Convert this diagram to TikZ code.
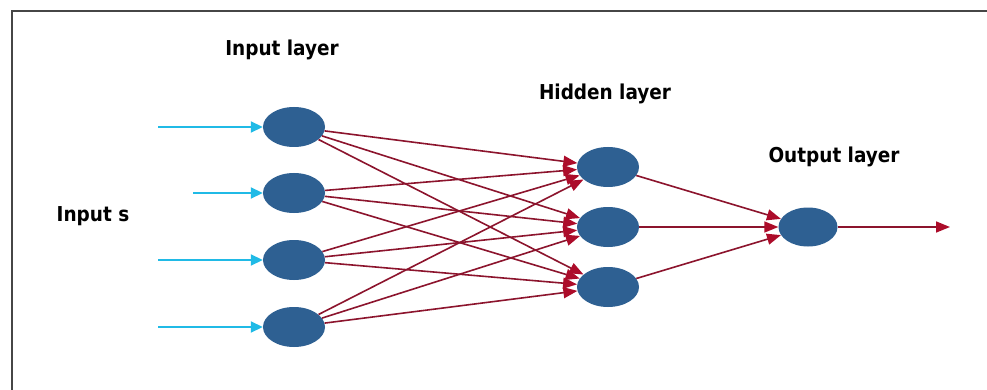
\documentclass[tikz,border=0pt]{standalone}
\usepackage{fontspec}
\newfontfamily\labelfont{DejaVu Sans Condensed}
\usetikzlibrary{arrows.meta,shapes.geometric}
\definecolor{cellblue}{RGB}{46,96,146}
\definecolor{wirered}{RGB}{140,20,45}
\definecolor{tipred}{RGB}{172,12,42}
\definecolor{feedcyan}{RGB}{32,186,230}
\definecolor{framegray}{RGB}{70,70,70}
\begin{document}
\begin{tikzpicture}[x=1pt,y=-1pt,
  cell/.style={ellipse, fill=cellblue, minimum width=62pt, minimum height=40pt, inner sep=0pt},
  wire/.style={draw=wirered, line width=1.6pt, -{Triangle[length=14pt,width=11pt,color=tipred]}},
  feed/.style={draw=feedcyan, line width=1.8pt, -{Triangle[length=12pt,width=11pt]}},
  caption/.style={font=\labelfont\bfseries\fontsize{20.5}{24}\selectfont, anchor=base, inner sep=0pt}]
\useasboundingbox (0,0) rectangle (987,390);
\fill[white] (0,0) rectangle (987,390);

% frame edges
\coordinate (ftop) at (987,11);
\coordinate (fcorner) at (12,11);
\coordinate (fbot) at (12,390);
\draw[framegray, line width=2pt] (ftop) -- (fcorner) -- (fbot);

% input layer
\node[cell] (i1) at (294,127) {};
\node[cell] (i2) at (294,193) {};
\node[cell] (i3) at (294,260) {};
\node[cell] (i4) at (294,327) {};

% hidden layer
\node[cell] (h1) at (608,167) {};
\node[cell] (h2) at (608,227) {};
\node[cell] (h3) at (608,287) {};

% output layer
\node[cell, minimum width=59pt, minimum height=39pt] (o) at (808,227) {};

% captions
\node[caption] (tin) at (282,56) {Input layer};
\node[caption] (thid) at (605,100) {Hidden layer};
\node[caption] (tout) at (834,163) {Output layer};
\node[caption] (tins) at (93,221) {Input s};

% incoming signals
\coordinate (s1) at (158,127);
\coordinate (s2) at (193,193);
\coordinate (s3) at (158,260);
\coordinate (s4) at (158,327);
\draw[feed] (s1) -- (i1);
\draw[feed] (s2) -- (i2);
\draw[feed] (s3) -- (i3);
\draw[feed] (s4) -- (i4);

% input -> hidden weights
\foreach \a in {i1,i2,i3,i4}
  \foreach \b in {h1,h2,h3}
    \draw[wire] (\a) -- (\b);

% hidden -> output weights
\foreach \b in {h1,h2,h3}
  \draw[wire] (\b) -- (o);

% result
\coordinate (res) at (950,227);
\draw[wire] (o) -- (res);
\end{tikzpicture}
\end{document}
